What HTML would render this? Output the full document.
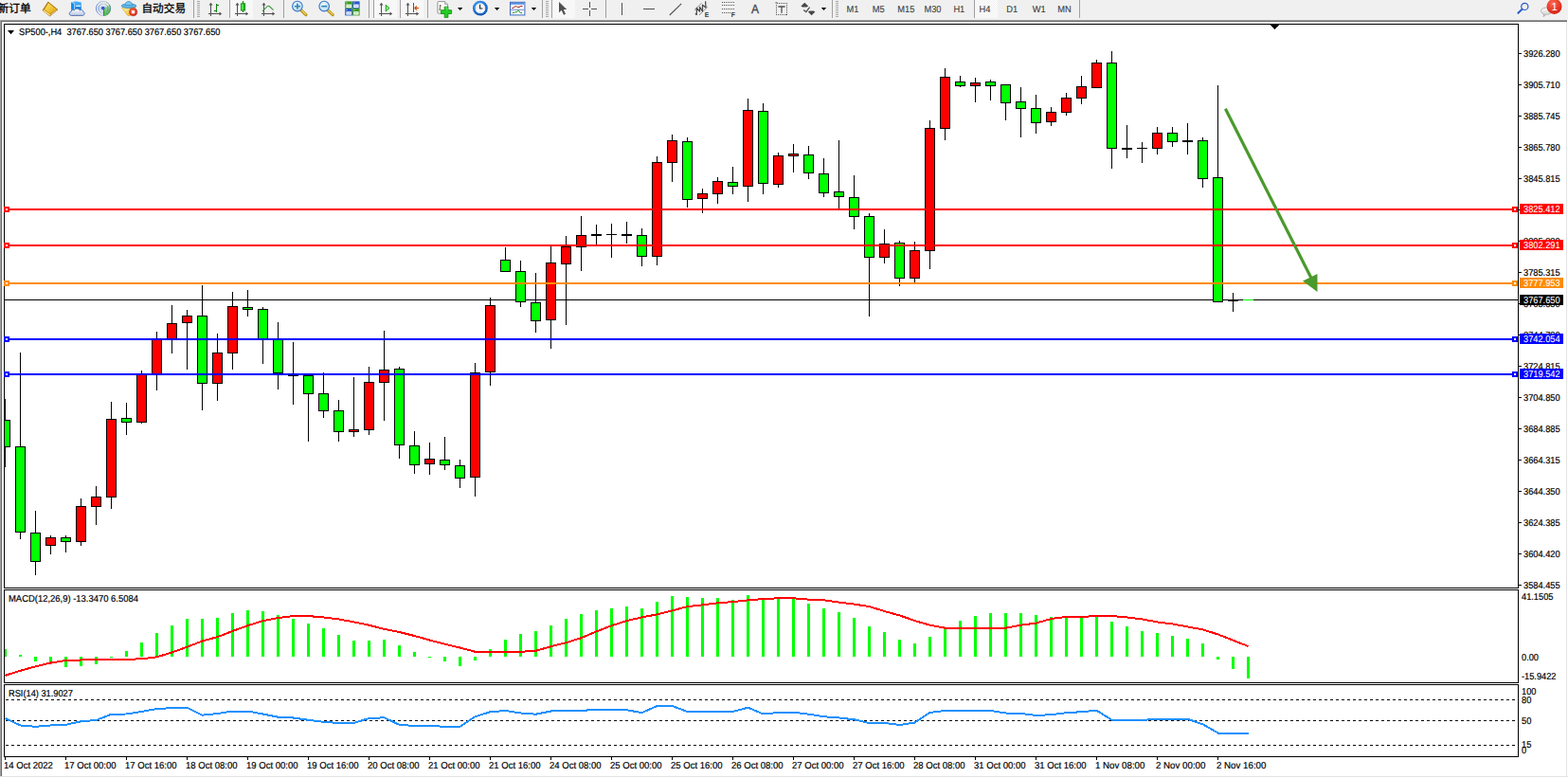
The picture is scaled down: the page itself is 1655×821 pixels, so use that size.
<!DOCTYPE html><html><head><meta charset="utf-8"><title>SP500 H4</title>
<style>html,body{margin:0;padding:0;background:#fff;}body{width:1655px;height:821px;overflow:hidden;position:relative;font-family:"Liberation Sans",sans-serif;}svg{position:absolute;left:0;top:0;}text{font-family:"Liberation Sans",sans-serif;}</style></head><body>
<svg width="1655" height="821" viewBox="0 0 1655 821">
<g shape-rendering="crispEdges">
<rect x="0" y="0" width="1655" height="21" fill="#f0f0f0"/>
<rect x="0" y="21" width="1654" height="1" fill="#a0a0a0"/>
<rect x="0" y="22" width="1654" height="1" fill="#696969"/>
<rect x="0" y="21" width="1" height="798" fill="#a0a0a0"/>
<rect x="1" y="22" width="1" height="797" fill="#696969"/>
<rect x="1654" y="21" width="1" height="800" fill="#ffffff"/>
<rect x="1653" y="23" width="1" height="797" fill="#e3e3e3"/>
<rect x="0" y="819" width="1655" height="1" fill="#e3e3e3"/>
<rect x="0" y="820" width="1655" height="1" fill="#ffffff"/>
</g>
<defs>
<linearGradient id="gGold" x1="0" y1="0" x2="1" y2="1"><stop offset="0" stop-color="#fff3a8"/><stop offset="0.5" stop-color="#e8b820"/><stop offset="1" stop-color="#b07808"/></linearGradient>
<linearGradient id="gBlueV" x1="0" y1="0" x2="0" y2="1"><stop offset="0" stop-color="#58b8ff"/><stop offset="1" stop-color="#0878e0"/></linearGradient>
<linearGradient id="gCloud" x1="0" y1="0" x2="0" y2="1"><stop offset="0" stop-color="#ffffff"/><stop offset="1" stop-color="#b8c8e4"/></linearGradient>
<radialGradient id="gLens" cx="0.4" cy="0.35" r="0.7"><stop offset="0" stop-color="#f0fbff"/><stop offset="1" stop-color="#b4dcf4"/></radialGradient>
<linearGradient id="gGreenV" x1="0" y1="0" x2="1" y2="0"><stop offset="0" stop-color="#a0ffa0"/><stop offset="0.5" stop-color="#20e020"/><stop offset="1" stop-color="#10b010"/></linearGradient>
<radialGradient id="gRed" cx="0.4" cy="0.3" r="0.8"><stop offset="0" stop-color="#ff6a50"/><stop offset="1" stop-color="#d01808"/></radialGradient>
<radialGradient id="gClock" cx="0.4" cy="0.3" r="0.8"><stop offset="0" stop-color="#48a8ff"/><stop offset="1" stop-color="#0848a8"/></radialGradient>
<linearGradient id="gYel" x1="0" y1="0" x2="1" y2="1"><stop offset="0" stop-color="#fff8b0"/><stop offset="1" stop-color="#e8b010"/></linearGradient>
<pattern id="chk" width="2" height="2" patternUnits="userSpaceOnUse"><rect width="2" height="2" fill="#f0f0f0"/><rect width="1" height="1" fill="#fff"/><rect x="1" y="1" width="1" height="1" fill="#fff"/></pattern>
<linearGradient id="gGold2" x1="0" y1="0" x2="1" y2="1"><stop offset="0" stop-color="#ffe868"/><stop offset="1" stop-color="#e0a408"/></linearGradient>
<linearGradient id="gRing" x1="0" y1="0" x2="1" y2="0"><stop offset="0" stop-color="#3060d0"/><stop offset="0.45" stop-color="#a0b8e8"/><stop offset="0.55" stop-color="#a8c8b0"/><stop offset="1" stop-color="#407890"/></linearGradient>
<linearGradient id="gSig" x1="0" y1="0" x2="0.4" y2="1"><stop offset="0" stop-color="#d0e8d0" stop-opacity="0.7"/><stop offset="1" stop-color="#30a830"/></linearGradient>
</defs>
<text x="-2.4" y="12.5" font-size="11.7px" fill="#000" stroke="#000" stroke-width="0.3" style="font-family:'Liberation Sans','Noto Sans CJK SC',sans-serif;">新订单</text>
<text x="149.4" y="12.5" font-size="11.7px" fill="#000" stroke="#000" stroke-width="0.3" style="font-family:'Liberation Sans','Noto Sans CJK SC',sans-serif;">自动交易</text>
<g shape-rendering="crispEdges">
<rect x="243" y="0" width="24" height="19" fill="url(#chk)"/>
<rect x="395" y="0" width="24" height="19" fill="url(#chk)"/>
<rect x="423" y="0" width="24" height="19" fill="url(#chk)"/>
<rect x="583" y="0" width="24" height="19" fill="url(#chk)"/>
<rect x="1029" y="0" width="24" height="19" fill="url(#chk)"/>
<rect x="204" y="0" width="1" height="19" fill="#a0a0a0"/>
<rect x="242" y="0" width="1" height="19" fill="#a0a0a0"/>
<rect x="299" y="0" width="1" height="19" fill="#a0a0a0"/>
<rect x="389" y="0" width="1" height="19" fill="#a0a0a0"/>
<rect x="394" y="0" width="1" height="19" fill="#a0a0a0"/>
<rect x="422" y="0" width="1" height="19" fill="#a0a0a0"/>
<rect x="451" y="0" width="1" height="19" fill="#a0a0a0"/>
<rect x="572" y="0" width="1" height="19" fill="#a0a0a0"/>
<rect x="582" y="0" width="1" height="19" fill="#a0a0a0"/>
<rect x="639" y="0" width="1" height="19" fill="#a0a0a0"/>
<rect x="878" y="0" width="1" height="19" fill="#a0a0a0"/>
<rect x="1028" y="0" width="1" height="19" fill="#a0a0a0"/>
<rect x="1139" y="0" width="1" height="19" fill="#a0a0a0"/>
<rect x="208" y="1" width="3" height="1" fill="#a8a8a8"/><rect x="208" y="3" width="3" height="1" fill="#a8a8a8"/><rect x="208" y="5" width="3" height="1" fill="#a8a8a8"/><rect x="208" y="7" width="3" height="1" fill="#a8a8a8"/><rect x="208" y="9" width="3" height="1" fill="#a8a8a8"/><rect x="208" y="11" width="3" height="1" fill="#a8a8a8"/><rect x="208" y="13" width="3" height="1" fill="#a8a8a8"/><rect x="208" y="15" width="3" height="1" fill="#a8a8a8"/><rect x="208" y="17" width="3" height="1" fill="#a8a8a8"/>
<rect x="576" y="1" width="3" height="1" fill="#a8a8a8"/><rect x="576" y="3" width="3" height="1" fill="#a8a8a8"/><rect x="576" y="5" width="3" height="1" fill="#a8a8a8"/><rect x="576" y="7" width="3" height="1" fill="#a8a8a8"/><rect x="576" y="9" width="3" height="1" fill="#a8a8a8"/><rect x="576" y="11" width="3" height="1" fill="#a8a8a8"/><rect x="576" y="13" width="3" height="1" fill="#a8a8a8"/><rect x="576" y="15" width="3" height="1" fill="#a8a8a8"/><rect x="576" y="17" width="3" height="1" fill="#a8a8a8"/>
<rect x="882" y="1" width="3" height="1" fill="#a8a8a8"/><rect x="882" y="3" width="3" height="1" fill="#a8a8a8"/><rect x="882" y="5" width="3" height="1" fill="#a8a8a8"/><rect x="882" y="7" width="3" height="1" fill="#a8a8a8"/><rect x="882" y="9" width="3" height="1" fill="#a8a8a8"/><rect x="882" y="11" width="3" height="1" fill="#a8a8a8"/><rect x="882" y="13" width="3" height="1" fill="#a8a8a8"/><rect x="882" y="15" width="3" height="1" fill="#a8a8a8"/><rect x="882" y="17" width="3" height="1" fill="#a8a8a8"/>
</g>
<g><path d="M50.8 2.1 L61 10.3 L52.6 16.9 L45 10.9 Z" fill="#c8901a" stroke="#a06a0a" stroke-width="0.8" stroke-linejoin="round"/><path d="M51.2 3.2 L59.6 10 L52.6 14.3 L47.2 9.9 Z" fill="url(#gGold2)"/><path d="M46.3 11.3 L52.4 15.7" stroke="#ffe890" stroke-width="1.3" stroke-linecap="round"/><path d="M53.6 15.5 L60.2 10.7" stroke="#e8d8a0" stroke-width="0.9"/></g>
<g><path d="M75.2 2.2 L80.4 1.2 L85.8 2.4 L85.8 10.4 L75.2 10.4 Z" fill="url(#gBlueV)"/><path d="M75.2 2.2 L78.6 3.6 L78.6 10.4 L75.2 10.4 Z" fill="#0a8ef0"/><path d="M75.6 2.4 L78.6 3.7 L78.6 10" stroke="#e6f6ff" stroke-width="0.7" fill="none"/><rect x="80" y="5.6" width="5" height="1.3" fill="#eaf7ff"/><path d="M75.4 16.4 C72.4 16.4 72.6 12.2 75.2 12.2 C75.2 10.4 77.4 10.2 78.2 11 C79.2 8.6 83.6 8.6 84.4 11 C85.8 9.8 88 10.6 87.6 12.4 C90 12.8 89.6 16.4 87 16.4 Z" fill="url(#gCloud)" stroke="#4a68a8" stroke-width="0.9" stroke-linejoin="round"/></g>
<g fill="none"><path d="M109 8.9 L109 17 A8.1 8.1 0 0 0 116 4.8 Z" fill="url(#gSig)"/><circle cx="109" cy="8.9" r="7.5" stroke="url(#gRing)" stroke-width="1" opacity="0.75"/><circle cx="109" cy="8.9" r="5" stroke="url(#gRing)" stroke-width="1" opacity="0.7"/><circle cx="109" cy="8.9" r="3" stroke="url(#gRing)" stroke-width="0.7" opacity="0.45"/><circle cx="108.8" cy="8.6" r="1.9" fill="#2858d0"/><path d="M109.6 9 L109.6 16.7" stroke="#18a018" stroke-width="1.3"/></g>
<g><path d="M128.6 8 L143.4 7.6 L137 16.6 L134.6 16.2 Z" fill="url(#gYel)" stroke="#d8a010" stroke-width="0.6" stroke-linejoin="round"/><ellipse cx="136" cy="6.2" rx="7.8" ry="2.3" fill="#62b4e8" stroke="#2a86b8" stroke-width="0.7"/><path d="M132 5.6 C132 0.2 139.6 0.2 139.6 5.6 Z" fill="#7cc4f0" stroke="#2a86b8" stroke-width="0.7"/><path d="M132.4 5.8 C134 6.8 138 6.8 139.3 5.8" stroke="#62b4e8" stroke-width="0.9" fill="none"/><circle cx="140.6" cy="12.7" r="4.1" fill="url(#gRed)" stroke="#b01000" stroke-width="0.4"/><rect x="138.9" y="11.1" width="3.3" height="3.2" fill="#fff"/></g>
<g fill="#505050" shape-rendering="crispEdges"><rect x="222" y="4" width="1" height="13"/><rect x="220" y="14" width="13" height="1"/></g><path d="M220.5 5.5 L222.5 2.8 L224.5 5.5 Z M231.5 12.5 L234.2 14.5 L231.5 16.5 Z" fill="#505050"/>
<g fill="#108010" shape-rendering="crispEdges"><rect x="228" y="4" width="1" height="9"/><rect x="228" y="5" width="3" height="1"/><rect x="226" y="11" width="3" height="1"/></g>
<path d="M228.5 4.3V12.6M228.5 5.3H231M226 11.3H228.5" stroke="#108010" stroke-width="0.6" fill="none"/>
<g fill="#505050" shape-rendering="crispEdges"><rect x="250" y="4" width="1" height="13"/><rect x="248" y="14" width="13" height="1"/></g><path d="M248.5 5.5 L250.5 2.8 L252.5 5.5 Z M259.5 12.5 L262.2 14.5 L259.5 16.5 Z" fill="#505050"/>
<rect x="256" y="1" width="1" height="12" fill="#108010" shape-rendering="crispEdges"/><rect x="254.4" y="3.8" width="4.2" height="7.2" fill="url(#gGreenV)" stroke="#108010" stroke-width="0.9"/>
<g fill="#505050" shape-rendering="crispEdges"><rect x="278" y="4" width="1" height="13"/><rect x="276" y="14" width="13" height="1"/></g><path d="M276.5 5.5 L278.5 2.8 L280.5 5.5 Z M287.5 12.5 L290.2 14.5 L287.5 16.5 Z" fill="#505050"/>
<path d="M277 11.8 C280 9.5 281.5 6.2 283.4 6.3 C285 6.4 286.5 9.5 288.6 10.4" stroke="#2a902a" stroke-width="1.1" fill="none"/>
<path d="M317.9 10.8 L322.9 15.6" stroke="#b89018" stroke-width="3.2" stroke-linecap="round"/><path d="M318.09999999999997 10.6 L322.9 15.2" stroke="#f0d860" stroke-width="1.2" stroke-linecap="round"/><circle cx="313.9" cy="6.6" r="5.3" fill="url(#gLens)" stroke="#3a74c8" stroke-width="1.1"/><rect x="310.9" y="5.8" width="6" height="1.7" fill="#3888b0"/><rect x="313.04999999999995" y="3.6" width="1.7" height="6" fill="#3888b0"/>
<path d="M346.2 10.8 L351.2 15.6" stroke="#b89018" stroke-width="3.2" stroke-linecap="round"/><path d="M346.4 10.6 L351.2 15.2" stroke="#f0d860" stroke-width="1.2" stroke-linecap="round"/><circle cx="342.2" cy="6.6" r="5.3" fill="url(#gLens)" stroke="#3a74c8" stroke-width="1.1"/><rect x="339.2" y="5.8" width="6" height="1.7" fill="#3888b0"/>
<rect x="364.2" y="1.4" width="7.6" height="7.4" fill="#3a9a1c"/><rect x="365.4" y="4.6" width="5.4" height="3.4" fill="#fff"/><rect x="366.2" y="5.800000000000001" width="3.8" height="0.9" fill="#90d070"/><rect x="365.5" y="2.4" width="1" height="1" fill="#fff" opacity="0.8"/>
<rect x="372" y="1.4" width="7.6" height="7.4" fill="#2858c8"/><rect x="373.2" y="4.6" width="5.4" height="3.4" fill="#fff"/><rect x="374" y="5.800000000000001" width="3.8" height="0.9" fill="#88a8e8"/><rect x="373.3" y="2.4" width="1" height="1" fill="#fff" opacity="0.8"/>
<rect x="364.2" y="9" width="7.6" height="7.4" fill="#2858c8"/><rect x="365.4" y="12.2" width="5.4" height="3.4" fill="#fff"/><rect x="366.2" y="13.4" width="3.8" height="0.9" fill="#88a8e8"/><rect x="365.5" y="10" width="1" height="1" fill="#fff" opacity="0.8"/>
<rect x="372" y="9" width="7.6" height="7.4" fill="#3a9a1c"/><rect x="373.2" y="12.2" width="5.4" height="3.4" fill="#fff"/><rect x="374" y="13.4" width="3.8" height="0.9" fill="#90d070"/><rect x="373.3" y="10" width="1" height="1" fill="#fff" opacity="0.8"/>
<g fill="#505050" shape-rendering="crispEdges"><rect x="402" y="4" width="1" height="13"/><rect x="400" y="14" width="13" height="1"/></g><path d="M400.5 5.5 L402.5 2.8 L404.5 5.5 Z M411.5 12.5 L414.2 14.5 L411.5 16.5 Z" fill="#505050"/>
<path d="M407.2 5.2 L411 8.6 L407.2 12 Z" fill="#90e890" stroke="#18a018" stroke-width="1" stroke-linejoin="round"/>
<g fill="#505050" shape-rendering="crispEdges"><rect x="430" y="4" width="1" height="13"/><rect x="428" y="14" width="13" height="1"/></g><path d="M428.5 5.5 L430.5 2.8 L432.5 5.5 Z M439.5 12.5 L442.2 14.5 L439.5 16.5 Z" fill="#505050"/>
<rect x="436" y="3" width="1" height="10" fill="#1868a8" shape-rendering="crispEdges"/><path d="M437.4 8.5 H442 M437.6 8.5 L440 6.3 M437.6 8.5 L440 10.7" stroke="#d84000" stroke-width="1.1" fill="none"/>
<path d="M461.9 2.4 Q461.9 1.6 462.8 1.6 L469.6 1.6 L472.6 4.4 L472.6 13.4 Q472.6 14.2 471.8 14.2 L462.8 14.2 Q461.9 14.2 461.9 13.4 Z" fill="#fafafa" stroke="#8a8a8a" stroke-width="0.9"/><path d="M469.6 1.6 L469.6 4.4 L472.6 4.4" fill="#e0e0e0" stroke="#8a8a8a" stroke-width="0.7"/><path d="M464.4 5 V11 M464.4 6 H466 M463.4 10 H464.4" stroke="#605030" stroke-width="0.8" fill="none"/>
<path d="M469.2 7.2 H472.9 V10.7 H476.6 V14.5 H472.9 V18.4 H469.2 V14.5 H465.5 V10.7 H469.2 Z" fill="#22cc22" stroke="#0a8a0a" stroke-width="0.8"/><path d="M470 8 H472 V11.4" stroke="#a0ffa0" stroke-width="0.8" fill="none" opacity="0.7"/>
<path d="M483 8 h5.4 l-2.7 3 z" fill="#000"/>
<path d="M521.9 8 h5.4 l-2.7 3 z" fill="#000"/>
<path d="M560.8 8 h5.4 l-2.7 3 z" fill="#000"/>
<path d="M866.8 8 h5.4 l-2.7 3 z" fill="#000"/>
<circle cx="506.9" cy="8.7" r="7.9" fill="url(#gClock)"/><circle cx="506.9" cy="8.7" r="5.4" fill="#f4f8ff"/><path d="M506.6 5 V9 H509.4" stroke="#202020" stroke-width="1.1" fill="none"/><path d="M506.9 4v0.8M506.9 12.6v0.8M502.2 8.7h0.8M510.8 8.7h0.8" stroke="#8090a8" stroke-width="0.7"/>
<rect x="538.5" y="2.3" width="15.4" height="13.6" fill="#fff" stroke="#3a68c0" stroke-width="1"/><rect x="539" y="2.8" width="14.4" height="2" fill="#5890e0"/><rect x="539" y="9.8" width="14.4" height="0.8" fill="#3a68c0"/><path d="M540.4 8.4 H542 L543.4 6.8 H545.4 L546.2 7.6 H548 L549.2 6.6 H551.6" stroke="#a01010" stroke-width="1" fill="none"/><path d="M541 13.6 H542.6 L543.6 12.8 H545.4 L546.6 11.4 H547.6 L549.4 13.6 H551" stroke="#109010" stroke-width="1" fill="none"/>
<path d="M590 2 L590 13.2 L592.7 10.8 L595 15.8 L597 14.8 L594.7 10 L598.2 10 Z" fill="#505050"/>
<g fill="#505050" shape-rendering="crispEdges"><rect x="622" y="2" width="1" height="6"/><rect x="622" y="11" width="1" height="6"/><rect x="615" y="9" width="6" height="1"/><rect x="624" y="9" width="6" height="1"/></g>
<g fill="#505050" shape-rendering="crispEdges"><rect x="656" y="3" width="1" height="13"/><rect x="679" y="9" width="12" height="1"/></g>
<path d="M706.8 16 L719.2 3.9" stroke="#505050" stroke-width="1.1"/>
<g stroke="#484848" fill="none"><path d="M733 10.5 L740.8 3.2" stroke-width="0.9" stroke-dasharray="1 0.5"/><path d="M738.2 15.6 L746.9 7.3" stroke-width="0.9" stroke-dasharray="1 0.5"/><path d="M733.8 14.4 L735.3 15.4 L735.3 8.4 L738.5 12.2 L738.5 7.4 L741.5 12 L741.5 5.2 L745 8 L744.6 1.4" stroke-width="1.25" stroke-linejoin="round"/></g>
<text x="743.8" y="17.9" font-size="6.8px" font-weight="bold" fill="#383838">E</text>
<g stroke="#505050" stroke-width="1" stroke-dasharray="1 1" shape-rendering="crispEdges"><path d="M762 2.5H775"/><path d="M762 5.5H775"/><path d="M762 9.5H775"/><path d="M762 13.5H771"/></g>
<text x="771.8" y="17.9" font-size="6.8px" font-weight="bold" fill="#383838">F</text>
<text x="792.9" y="13.9" font-size="12px" fill="#484848" stroke="#484848" stroke-width="0.35">A</text>
<rect x="819.5" y="3.5" width="11" height="12" fill="none" stroke="#505050" stroke-width="1" stroke-dasharray="1 1" shape-rendering="crispEdges"/><path d="M821.4 7 H828.6 M825 7 V13.8" stroke="#505050" stroke-width="1.3" fill="none"/><rect x="818.4" y="2.4" width="2" height="1" fill="#505050"/>
<path d="M849.3 2.8 L853.2 6.6 L851.6 7.5 L847 7.5 L845.4 6.6 Z M852.9 12.4 L854.5 11.5 L858.8 11.5 L860.4 12.4 L856.6 16.2 Z" fill="#484848"/><path d="M848.2 10.6 L850.8 12.6 L854.6 7.6" stroke="#505050" stroke-width="1.3" fill="none"/>
<g font-size="10px" fill="#3c3c3c" stroke="#3c3c3c" stroke-width="0.12" text-rendering="geometricPrecision">
<text transform="translate(893.4 12.9) scale(0.93 1)">M1</text>
<text transform="translate(920.8 12.9) scale(0.93 1)">M5</text>
<text transform="translate(947.3 12.9) scale(0.93 1)">M15</text>
<text transform="translate(975.4 12.9) scale(0.93 1)">M30</text>
<text transform="translate(1006.4 12.9) scale(0.93 1)">H1</text>
<text transform="translate(1033.6 12.9) scale(0.93 1)">H4</text>
<text transform="translate(1062.3 12.9) scale(0.93 1)">D1</text>
<text transform="translate(1089.8 12.9) scale(0.93 1)">W1</text>
<text transform="translate(1116.3 12.9) scale(0.93 1)">MN</text>
</g>
<circle cx="1609.3" cy="6.9" r="3.6" fill="none" stroke="#2858c8" stroke-width="1.2"/><path d="M1606.6 9.6 L1602.4 13.8" stroke="#2858c8" stroke-width="2" stroke-linecap="round"/>
<linearGradient id="gBub" x1="0" y1="0" x2="0" y2="1"><stop offset="0" stop-color="#ffffff"/><stop offset="1" stop-color="#c4c4c4"/></linearGradient>
<path d="M1626.4 11.6 C1626.4 7 1637.8 7 1637.8 11.6 C1637.8 14.8 1633.4 15.6 1631.8 15.3 L1629 17.6 L1629.6 14.8 C1627.4 14.2 1626.4 13 1626.4 11.6 Z" fill="url(#gBub)" stroke="#a8a8a8" stroke-width="0.8"/>
<circle cx="1640.5" cy="6.9" r="8" fill="url(#gRed)"/><text x="1637.4" y="11" font-size="11.5px" fill="#fff">1</text>
<g shape-rendering="crispEdges" fill="#000">
<rect x="4" y="25" width="1599" height="1"/>
<rect x="4" y="620" width="1599" height="1"/>
<rect x="4" y="25" width="1" height="596"/>
<rect x="1602" y="25" width="1" height="596"/>
<rect x="4" y="622" width="1599" height="1"/>
<rect x="4" y="720" width="1599" height="1"/>
<rect x="4" y="622" width="1" height="99"/>
<rect x="1602" y="622" width="1" height="99"/>
<rect x="4" y="722" width="1599" height="1"/>
<rect x="4" y="798" width="1599" height="1"/>
<rect x="4" y="722" width="1" height="77"/>
<rect x="1602" y="722" width="1" height="77"/>
<rect x="1603" y="56" width="3" height="1"/>
<rect x="1603" y="89" width="3" height="1"/>
<rect x="1603" y="122" width="3" height="1"/>
<rect x="1603" y="155" width="3" height="1"/>
<rect x="1603" y="188" width="3" height="1"/>
<rect x="1603" y="221" width="3" height="1"/>
<rect x="1603" y="254" width="3" height="1"/>
<rect x="1603" y="287" width="3" height="1"/>
<rect x="1603" y="320" width="3" height="1"/>
<rect x="1603" y="353" width="3" height="1"/>
<rect x="1603" y="386" width="3" height="1"/>
<rect x="1603" y="419" width="3" height="1"/>
<rect x="1603" y="452" width="3" height="1"/>
<rect x="1603" y="485" width="3" height="1"/>
<rect x="1603" y="518" width="3" height="1"/>
<rect x="1603" y="551" width="3" height="1"/>
<rect x="1603" y="584" width="3" height="1"/>
<rect x="1603" y="617" width="3" height="1"/>
<rect x="5" y="799" width="1" height="3"/>
<rect x="69" y="799" width="1" height="3"/>
<rect x="133" y="799" width="1" height="3"/>
<rect x="197" y="799" width="1" height="3"/>
<rect x="261" y="799" width="1" height="3"/>
<rect x="325" y="799" width="1" height="3"/>
<rect x="389" y="799" width="1" height="3"/>
<rect x="453" y="799" width="1" height="3"/>
<rect x="517" y="799" width="1" height="3"/>
<rect x="581" y="799" width="1" height="3"/>
<rect x="645" y="799" width="1" height="3"/>
<rect x="709" y="799" width="1" height="3"/>
<rect x="773" y="799" width="1" height="3"/>
<rect x="837" y="799" width="1" height="3"/>
<rect x="901" y="799" width="1" height="3"/>
<rect x="965" y="799" width="1" height="3"/>
<rect x="1029" y="799" width="1" height="3"/>
<rect x="1093" y="799" width="1" height="3"/>
<rect x="1157" y="799" width="1" height="3"/>
<rect x="1221" y="799" width="1" height="3"/>
<rect x="1285" y="799" width="1" height="3"/>
<path d="M1340 26h10l-5 5z"/>
</g>
<clipPath id="cp"><rect x="5" y="26" width="1597" height="594"/></clipPath>
<g shape-rendering="crispEdges" clip-path="url(#cp)">
<rect x="5" y="316" width="1597" height="1" fill="#000"/>
<rect x="5" y="421" width="1" height="72" fill="#000"/>
<rect x="0" y="443" width="11" height="29" fill="#000"/>
<rect x="1" y="444" width="9" height="27" fill="#00ff00"/>
<rect x="21" y="372" width="1" height="197" fill="#000"/>
<rect x="16" y="471" width="11" height="91" fill="#000"/>
<rect x="17" y="472" width="9" height="89" fill="#00ff00"/>
<rect x="37" y="539" width="1" height="68" fill="#000"/>
<rect x="32" y="562" width="11" height="31" fill="#000"/>
<rect x="33" y="563" width="9" height="29" fill="#00ff00"/>
<rect x="53" y="565" width="1" height="20" fill="#000"/>
<rect x="48" y="567" width="11" height="9" fill="#000"/>
<rect x="49" y="568" width="9" height="7" fill="#ff0000"/>
<rect x="69" y="565" width="1" height="18" fill="#000"/>
<rect x="64" y="567" width="11" height="5" fill="#000"/>
<rect x="65" y="568" width="9" height="3" fill="#00ff00"/>
<rect x="85" y="526" width="1" height="50" fill="#000"/>
<rect x="80" y="534" width="11" height="38" fill="#000"/>
<rect x="81" y="535" width="9" height="36" fill="#ff0000"/>
<rect x="101" y="513" width="1" height="41" fill="#000"/>
<rect x="96" y="524" width="11" height="11" fill="#000"/>
<rect x="97" y="525" width="9" height="9" fill="#ff0000"/>
<rect x="117" y="424" width="1" height="113" fill="#000"/>
<rect x="112" y="442" width="11" height="83" fill="#000"/>
<rect x="113" y="443" width="9" height="81" fill="#ff0000"/>
<rect x="133" y="425" width="1" height="34" fill="#000"/>
<rect x="128" y="441" width="11" height="5" fill="#000"/>
<rect x="129" y="442" width="9" height="3" fill="#00ff00"/>
<rect x="149" y="391" width="1" height="56" fill="#000"/>
<rect x="144" y="395" width="11" height="51" fill="#000"/>
<rect x="145" y="396" width="9" height="49" fill="#ff0000"/>
<rect x="165" y="350" width="1" height="62" fill="#000"/>
<rect x="160" y="358" width="11" height="37" fill="#000"/>
<rect x="161" y="359" width="9" height="35" fill="#ff0000"/>
<rect x="181" y="322" width="1" height="51" fill="#000"/>
<rect x="176" y="341" width="11" height="17" fill="#000"/>
<rect x="177" y="342" width="9" height="15" fill="#ff0000"/>
<rect x="197" y="327" width="1" height="63" fill="#000"/>
<rect x="192" y="333" width="11" height="8" fill="#000"/>
<rect x="193" y="334" width="9" height="6" fill="#ff0000"/>
<rect x="213" y="301" width="1" height="132" fill="#000"/>
<rect x="208" y="333" width="11" height="72" fill="#000"/>
<rect x="209" y="334" width="9" height="70" fill="#00ff00"/>
<rect x="229" y="352" width="1" height="71" fill="#000"/>
<rect x="224" y="372" width="11" height="33" fill="#000"/>
<rect x="225" y="373" width="9" height="31" fill="#ff0000"/>
<rect x="245" y="308" width="1" height="82" fill="#000"/>
<rect x="240" y="323" width="11" height="50" fill="#000"/>
<rect x="241" y="324" width="9" height="48" fill="#ff0000"/>
<rect x="261" y="306" width="1" height="28" fill="#000"/>
<rect x="256" y="324" width="11" height="3" fill="#000"/>
<rect x="257" y="325" width="9" height="1" fill="#00ff00"/>
<rect x="277" y="324" width="1" height="60" fill="#000"/>
<rect x="272" y="326" width="11" height="32" fill="#000"/>
<rect x="273" y="327" width="9" height="30" fill="#00ff00"/>
<rect x="293" y="340" width="1" height="71" fill="#000"/>
<rect x="288" y="358" width="11" height="36" fill="#000"/>
<rect x="289" y="359" width="9" height="34" fill="#00ff00"/>
<rect x="309" y="361" width="1" height="66" fill="#000"/>
<rect x="304" y="396" width="11" height="1" fill="#000"/>
<rect x="325" y="396" width="1" height="70" fill="#000"/>
<rect x="320" y="396" width="11" height="20" fill="#000"/>
<rect x="321" y="397" width="9" height="18" fill="#00ff00"/>
<rect x="341" y="393" width="1" height="48" fill="#000"/>
<rect x="336" y="415" width="11" height="19" fill="#000"/>
<rect x="337" y="416" width="9" height="17" fill="#00ff00"/>
<rect x="357" y="422" width="1" height="44" fill="#000"/>
<rect x="352" y="433" width="11" height="23" fill="#000"/>
<rect x="353" y="434" width="9" height="21" fill="#00ff00"/>
<rect x="373" y="398" width="1" height="63" fill="#000"/>
<rect x="368" y="453" width="11" height="3" fill="#000"/>
<rect x="369" y="454" width="9" height="1" fill="#ff0000"/>
<rect x="389" y="387" width="1" height="72" fill="#000"/>
<rect x="384" y="403" width="11" height="51" fill="#000"/>
<rect x="385" y="404" width="9" height="49" fill="#ff0000"/>
<rect x="405" y="349" width="1" height="95" fill="#000"/>
<rect x="400" y="390" width="11" height="14" fill="#000"/>
<rect x="401" y="391" width="9" height="12" fill="#ff0000"/>
<rect x="421" y="387" width="1" height="97" fill="#000"/>
<rect x="416" y="389" width="11" height="81" fill="#000"/>
<rect x="417" y="390" width="9" height="79" fill="#00ff00"/>
<rect x="437" y="455" width="1" height="45" fill="#000"/>
<rect x="432" y="470" width="11" height="21" fill="#000"/>
<rect x="433" y="471" width="9" height="19" fill="#00ff00"/>
<rect x="453" y="467" width="1" height="34" fill="#000"/>
<rect x="448" y="484" width="11" height="6" fill="#000"/>
<rect x="449" y="485" width="9" height="4" fill="#ff0000"/>
<rect x="469" y="461" width="1" height="35" fill="#000"/>
<rect x="464" y="485" width="11" height="6" fill="#000"/>
<rect x="465" y="486" width="9" height="4" fill="#00ff00"/>
<rect x="485" y="485" width="1" height="30" fill="#000"/>
<rect x="480" y="491" width="11" height="14" fill="#000"/>
<rect x="481" y="492" width="9" height="12" fill="#00ff00"/>
<rect x="501" y="383" width="1" height="141" fill="#000"/>
<rect x="496" y="393" width="11" height="111" fill="#000"/>
<rect x="497" y="394" width="9" height="109" fill="#ff0000"/>
<rect x="517" y="314" width="1" height="93" fill="#000"/>
<rect x="512" y="322" width="11" height="71" fill="#000"/>
<rect x="513" y="323" width="9" height="69" fill="#ff0000"/>
<rect x="533" y="261" width="1" height="26" fill="#000"/>
<rect x="528" y="274" width="11" height="13" fill="#000"/>
<rect x="529" y="275" width="9" height="11" fill="#00ff00"/>
<rect x="549" y="275" width="1" height="49" fill="#000"/>
<rect x="544" y="286" width="11" height="33" fill="#000"/>
<rect x="545" y="287" width="9" height="31" fill="#00ff00"/>
<rect x="565" y="288" width="1" height="63" fill="#000"/>
<rect x="560" y="319" width="11" height="20" fill="#000"/>
<rect x="561" y="320" width="9" height="18" fill="#00ff00"/>
<rect x="581" y="260" width="1" height="108" fill="#000"/>
<rect x="576" y="277" width="11" height="61" fill="#000"/>
<rect x="577" y="278" width="9" height="59" fill="#ff0000"/>
<rect x="597" y="249" width="1" height="94" fill="#000"/>
<rect x="592" y="260" width="11" height="19" fill="#000"/>
<rect x="593" y="261" width="9" height="17" fill="#ff0000"/>
<rect x="613" y="228" width="1" height="58" fill="#000"/>
<rect x="608" y="248" width="11" height="13" fill="#000"/>
<rect x="609" y="249" width="9" height="11" fill="#ff0000"/>
<rect x="629" y="237" width="1" height="21" fill="#000"/>
<rect x="624" y="247" width="11" height="2" fill="#000"/>
<rect x="645" y="236" width="1" height="36" fill="#000"/>
<rect x="640" y="247" width="11" height="1" fill="#000"/>
<rect x="661" y="234" width="1" height="23" fill="#000"/>
<rect x="656" y="247" width="11" height="2" fill="#000"/>
<rect x="677" y="241" width="1" height="40" fill="#000"/>
<rect x="672" y="248" width="11" height="23" fill="#000"/>
<rect x="673" y="249" width="9" height="21" fill="#00ff00"/>
<rect x="693" y="165" width="1" height="115" fill="#000"/>
<rect x="688" y="171" width="11" height="100" fill="#000"/>
<rect x="689" y="172" width="9" height="98" fill="#ff0000"/>
<rect x="709" y="142" width="1" height="50" fill="#000"/>
<rect x="704" y="148" width="11" height="24" fill="#000"/>
<rect x="705" y="149" width="9" height="22" fill="#ff0000"/>
<rect x="725" y="145" width="1" height="74" fill="#000"/>
<rect x="720" y="149" width="11" height="62" fill="#000"/>
<rect x="721" y="150" width="9" height="60" fill="#00ff00"/>
<rect x="741" y="199" width="1" height="26" fill="#000"/>
<rect x="736" y="204" width="11" height="6" fill="#000"/>
<rect x="737" y="205" width="9" height="4" fill="#ff0000"/>
<rect x="757" y="187" width="1" height="28" fill="#000"/>
<rect x="752" y="191" width="11" height="14" fill="#000"/>
<rect x="753" y="192" width="9" height="12" fill="#ff0000"/>
<rect x="773" y="176" width="1" height="29" fill="#000"/>
<rect x="768" y="192" width="11" height="5" fill="#000"/>
<rect x="769" y="193" width="9" height="3" fill="#00ff00"/>
<rect x="789" y="104" width="1" height="109" fill="#000"/>
<rect x="784" y="116" width="11" height="81" fill="#000"/>
<rect x="785" y="117" width="9" height="79" fill="#ff0000"/>
<rect x="805" y="109" width="1" height="96" fill="#000"/>
<rect x="800" y="117" width="11" height="77" fill="#000"/>
<rect x="801" y="118" width="9" height="75" fill="#00ff00"/>
<rect x="821" y="161" width="1" height="37" fill="#000"/>
<rect x="816" y="164" width="11" height="31" fill="#000"/>
<rect x="817" y="165" width="9" height="29" fill="#ff0000"/>
<rect x="837" y="152" width="1" height="30" fill="#000"/>
<rect x="832" y="162" width="11" height="3" fill="#000"/>
<rect x="833" y="163" width="9" height="1" fill="#ff0000"/>
<rect x="853" y="154" width="1" height="35" fill="#000"/>
<rect x="848" y="163" width="11" height="20" fill="#000"/>
<rect x="849" y="164" width="9" height="18" fill="#00ff00"/>
<rect x="869" y="167" width="1" height="41" fill="#000"/>
<rect x="864" y="183" width="11" height="21" fill="#000"/>
<rect x="865" y="184" width="9" height="19" fill="#00ff00"/>
<rect x="885" y="148" width="1" height="72" fill="#000"/>
<rect x="880" y="202" width="11" height="6" fill="#000"/>
<rect x="881" y="203" width="9" height="4" fill="#00ff00"/>
<rect x="901" y="185" width="1" height="57" fill="#000"/>
<rect x="896" y="208" width="11" height="21" fill="#000"/>
<rect x="897" y="209" width="9" height="19" fill="#00ff00"/>
<rect x="917" y="225" width="1" height="109" fill="#000"/>
<rect x="912" y="228" width="11" height="44" fill="#000"/>
<rect x="913" y="229" width="9" height="42" fill="#00ff00"/>
<rect x="933" y="242" width="1" height="36" fill="#000"/>
<rect x="928" y="257" width="11" height="15" fill="#000"/>
<rect x="929" y="258" width="9" height="13" fill="#ff0000"/>
<rect x="949" y="254" width="1" height="48" fill="#000"/>
<rect x="944" y="256" width="11" height="38" fill="#000"/>
<rect x="945" y="257" width="9" height="36" fill="#00ff00"/>
<rect x="965" y="255" width="1" height="43" fill="#000"/>
<rect x="960" y="264" width="11" height="30" fill="#000"/>
<rect x="961" y="265" width="9" height="28" fill="#ff0000"/>
<rect x="981" y="127" width="1" height="157" fill="#000"/>
<rect x="976" y="135" width="11" height="130" fill="#000"/>
<rect x="977" y="136" width="9" height="128" fill="#ff0000"/>
<rect x="997" y="72" width="1" height="76" fill="#000"/>
<rect x="992" y="81" width="11" height="55" fill="#000"/>
<rect x="993" y="82" width="9" height="53" fill="#ff0000"/>
<rect x="1013" y="80" width="1" height="12" fill="#000"/>
<rect x="1008" y="86" width="11" height="5" fill="#000"/>
<rect x="1009" y="87" width="9" height="3" fill="#00ff00"/>
<rect x="1029" y="82" width="1" height="26" fill="#000"/>
<rect x="1024" y="87" width="11" height="4" fill="#000"/>
<rect x="1025" y="88" width="9" height="2" fill="#ff0000"/>
<rect x="1045" y="84" width="1" height="22" fill="#000"/>
<rect x="1040" y="86" width="11" height="5" fill="#000"/>
<rect x="1041" y="87" width="9" height="3" fill="#00ff00"/>
<rect x="1061" y="89" width="1" height="38" fill="#000"/>
<rect x="1056" y="89" width="11" height="20" fill="#000"/>
<rect x="1057" y="90" width="9" height="18" fill="#00ff00"/>
<rect x="1077" y="92" width="1" height="53" fill="#000"/>
<rect x="1072" y="107" width="11" height="8" fill="#000"/>
<rect x="1073" y="108" width="9" height="6" fill="#00ff00"/>
<rect x="1093" y="100" width="1" height="41" fill="#000"/>
<rect x="1088" y="114" width="11" height="16" fill="#000"/>
<rect x="1089" y="115" width="9" height="14" fill="#00ff00"/>
<rect x="1109" y="113" width="1" height="20" fill="#000"/>
<rect x="1104" y="118" width="11" height="11" fill="#000"/>
<rect x="1105" y="119" width="9" height="9" fill="#ff0000"/>
<rect x="1125" y="98" width="1" height="24" fill="#000"/>
<rect x="1120" y="103" width="11" height="16" fill="#000"/>
<rect x="1121" y="104" width="9" height="14" fill="#ff0000"/>
<rect x="1141" y="80" width="1" height="30" fill="#000"/>
<rect x="1136" y="91" width="11" height="13" fill="#000"/>
<rect x="1137" y="92" width="9" height="11" fill="#ff0000"/>
<rect x="1157" y="63" width="1" height="30" fill="#000"/>
<rect x="1152" y="66" width="11" height="27" fill="#000"/>
<rect x="1153" y="67" width="9" height="25" fill="#ff0000"/>
<rect x="1173" y="54" width="1" height="124" fill="#000"/>
<rect x="1168" y="66" width="11" height="91" fill="#000"/>
<rect x="1169" y="67" width="9" height="89" fill="#00ff00"/>
<rect x="1189" y="132" width="1" height="35" fill="#000"/>
<rect x="1184" y="156" width="11" height="2" fill="#000"/>
<rect x="1205" y="150" width="1" height="22" fill="#000"/>
<rect x="1200" y="156" width="11" height="1" fill="#000"/>
<rect x="1221" y="134" width="1" height="29" fill="#000"/>
<rect x="1216" y="140" width="11" height="17" fill="#000"/>
<rect x="1217" y="141" width="9" height="15" fill="#ff0000"/>
<rect x="1237" y="134" width="1" height="21" fill="#000"/>
<rect x="1232" y="140" width="11" height="10" fill="#000"/>
<rect x="1233" y="141" width="9" height="8" fill="#00ff00"/>
<rect x="1253" y="130" width="1" height="33" fill="#000"/>
<rect x="1248" y="148" width="11" height="2" fill="#000"/>
<rect x="1269" y="145" width="1" height="53" fill="#000"/>
<rect x="1264" y="148" width="11" height="41" fill="#000"/>
<rect x="1265" y="149" width="9" height="39" fill="#00ff00"/>
<rect x="1285" y="90" width="1" height="229" fill="#000"/>
<rect x="1280" y="187" width="11" height="132" fill="#000"/>
<rect x="1281" y="188" width="9" height="130" fill="#00ff00"/>
<rect x="1301" y="309" width="1" height="20" fill="#000"/>
<rect x="1296" y="317" width="11" height="1" fill="#000"/>
<rect x="5" y="220" width="1597" height="2" fill="#ff0000"/>
<rect x="5" y="258" width="1597" height="2" fill="#ff0000"/>
<rect x="5" y="298" width="1597" height="2" fill="#ff8c00"/>
<rect x="5" y="357" width="1597" height="2" fill="#0000ff"/>
<rect x="5" y="394" width="1597" height="2" fill="#0000ff"/>
<rect x="1312" y="316" width="11" height="1" fill="#00ff00"/>
</g>
<g shape-rendering="crispEdges">
<rect x="4" y="218" width="6" height="6" fill="#ff0000"/><rect x="6" y="220" width="2" height="2" fill="#fff"/>
<rect x="1596" y="218" width="6" height="6" fill="#ff0000"/><rect x="1598" y="220" width="2" height="2" fill="#fff"/>
<rect x="4" y="256" width="6" height="6" fill="#ff0000"/><rect x="6" y="258" width="2" height="2" fill="#fff"/>
<rect x="1596" y="256" width="6" height="6" fill="#ff0000"/><rect x="1598" y="258" width="2" height="2" fill="#fff"/>
<rect x="4" y="296" width="6" height="6" fill="#ff8c00"/><rect x="6" y="298" width="2" height="2" fill="#fff"/>
<rect x="1596" y="296" width="6" height="6" fill="#ff8c00"/><rect x="1598" y="298" width="2" height="2" fill="#fff"/>
<rect x="4" y="355" width="6" height="6" fill="#0000ff"/><rect x="6" y="357" width="2" height="2" fill="#fff"/>
<rect x="1596" y="355" width="6" height="6" fill="#0000ff"/><rect x="1598" y="357" width="2" height="2" fill="#fff"/>
<rect x="4" y="392" width="6" height="6" fill="#0000ff"/><rect x="6" y="394" width="2" height="2" fill="#fff"/>
<rect x="1596" y="392" width="6" height="6" fill="#0000ff"/><rect x="1598" y="394" width="2" height="2" fill="#fff"/>
</g>
<g fill="#4a9a2c" stroke="none"><path d="M1293.4 114.8 L1383.8 293" stroke="#4a9a2c" stroke-width="3.2" fill="none"/><path d="M1390.5 289 L1375 296.5 L1390.5 308 Z"/></g>
<g shape-rendering="crispEdges" fill="#00ff00">
<rect x="5" y="685" width="2" height="8"/>
<rect x="20" y="691" width="3" height="2"/>
<rect x="36" y="693" width="3" height="5"/>
<rect x="52" y="693" width="3" height="8"/>
<rect x="68" y="693" width="3" height="11"/>
<rect x="84" y="693" width="3" height="10"/>
<rect x="100" y="693" width="3" height="8"/>
<rect x="116" y="693" width="3" height="1"/>
<rect x="132" y="687" width="3" height="6"/>
<rect x="148" y="678" width="3" height="15"/>
<rect x="164" y="668" width="3" height="25"/>
<rect x="180" y="660" width="3" height="33"/>
<rect x="196" y="653" width="3" height="40"/>
<rect x="212" y="653" width="3" height="40"/>
<rect x="228" y="652" width="3" height="41"/>
<rect x="244" y="647" width="3" height="46"/>
<rect x="260" y="644" width="3" height="49"/>
<rect x="276" y="645" width="3" height="48"/>
<rect x="292" y="649" width="3" height="44"/>
<rect x="308" y="653" width="3" height="40"/>
<rect x="324" y="658" width="3" height="35"/>
<rect x="340" y="663" width="3" height="30"/>
<rect x="356" y="670" width="3" height="23"/>
<rect x="372" y="676" width="3" height="17"/>
<rect x="388" y="676" width="3" height="17"/>
<rect x="404" y="675" width="3" height="18"/>
<rect x="420" y="681" width="3" height="12"/>
<rect x="436" y="688" width="3" height="5"/>
<rect x="452" y="693" width="3" height="1"/>
<rect x="468" y="693" width="3" height="5"/>
<rect x="484" y="693" width="3" height="10"/>
<rect x="500" y="693" width="3" height="4"/>
<rect x="516" y="685" width="3" height="8"/>
<rect x="532" y="675" width="3" height="18"/>
<rect x="548" y="669" width="3" height="24"/>
<rect x="564" y="666" width="3" height="27"/>
<rect x="580" y="660" width="3" height="33"/>
<rect x="596" y="653" width="3" height="40"/>
<rect x="612" y="648" width="3" height="45"/>
<rect x="628" y="644" width="3" height="49"/>
<rect x="644" y="642" width="3" height="51"/>
<rect x="660" y="640" width="3" height="53"/>
<rect x="676" y="642" width="3" height="51"/>
<rect x="692" y="635" width="3" height="58"/>
<rect x="708" y="629" width="3" height="64"/>
<rect x="724" y="630" width="3" height="63"/>
<rect x="740" y="631" width="3" height="62"/>
<rect x="756" y="631" width="3" height="62"/>
<rect x="772" y="633" width="3" height="60"/>
<rect x="788" y="628" width="3" height="65"/>
<rect x="804" y="631" width="3" height="62"/>
<rect x="820" y="632" width="3" height="61"/>
<rect x="836" y="632" width="3" height="61"/>
<rect x="852" y="637" width="3" height="56"/>
<rect x="868" y="642" width="3" height="51"/>
<rect x="884" y="646" width="3" height="47"/>
<rect x="900" y="652" width="3" height="41"/>
<rect x="916" y="661" width="3" height="32"/>
<rect x="932" y="667" width="3" height="26"/>
<rect x="948" y="675" width="3" height="18"/>
<rect x="964" y="679" width="3" height="14"/>
<rect x="980" y="672" width="3" height="21"/>
<rect x="996" y="663" width="3" height="30"/>
<rect x="1012" y="655" width="3" height="38"/>
<rect x="1028" y="650" width="3" height="43"/>
<rect x="1044" y="647" width="3" height="46"/>
<rect x="1060" y="647" width="3" height="46"/>
<rect x="1076" y="647" width="3" height="46"/>
<rect x="1092" y="649" width="3" height="44"/>
<rect x="1108" y="651" width="3" height="42"/>
<rect x="1124" y="651" width="3" height="42"/>
<rect x="1140" y="650" width="3" height="43"/>
<rect x="1156" y="651" width="3" height="42"/>
<rect x="1172" y="656" width="3" height="37"/>
<rect x="1188" y="661" width="3" height="32"/>
<rect x="1204" y="666" width="3" height="27"/>
<rect x="1220" y="668" width="3" height="25"/>
<rect x="1236" y="671" width="3" height="22"/>
<rect x="1252" y="674" width="3" height="19"/>
<rect x="1268" y="679" width="3" height="14"/>
<rect x="1284" y="693" width="3" height="3"/>
<rect x="1300" y="693" width="3" height="13"/>
<rect x="1316" y="693" width="3" height="23"/>
</g>
<polyline points="5.5,712.8 21.5,707.8 37.5,703.3 53.5,699.5 69.5,697 85.5,696.5 101.5,696 117.5,695.8 133.5,695.8 149.5,695.3 165.5,693.3 181.5,688.5 197.5,682.7 213.5,676.5 229.5,672.2 245.5,665.9 261.5,660.2 277.5,655.1 293.5,652.1 309.5,650.1 325.5,650.1 341.5,651.4 357.5,653.4 373.5,656.4 389.5,659.7 405.5,663.9 421.5,667 437.5,671 453.5,675.5 469.5,679.7 485.5,683.5 501.5,687.8 517.5,688 533.5,688 549.5,687.8 565.5,686.8 581.5,682.2 597.5,678.2 613.5,673.2 629.5,666.4 645.5,660.2 661.5,655.1 677.5,651.4 693.5,648.4 709.5,644.4 725.5,640.1 741.5,638.3 757.5,636.3 773.5,635.1 789.5,633.3 805.5,632.1 821.5,631.3 837.5,631.3 853.5,632.6 869.5,633.3 885.5,635.6 901.5,637.6 917.5,640 933.5,645 949.5,649.4 965.5,655 981.5,659.7 997.5,662.7 1013.5,663.4 1029.5,663.4 1045.5,663.4 1061.5,662.7 1077.5,659.7 1093.5,657.6 1109.5,653 1125.5,651 1141.5,651 1157.5,650 1173.5,650 1189.5,651.4 1205.5,653.4 1221.5,656.4 1237.5,658.4 1253.5,661.4 1269.5,664.4 1285.5,669.4 1301.5,675.7 1317.5,682" fill="none" stroke="#ff0000" stroke-width="2" stroke-linejoin="round" shape-rendering="crispEdges"/>
<g shape-rendering="crispEdges" stroke="#000" stroke-width="1" stroke-dasharray="3 3">
<line x1="6" x2="1602" y1="738.5" y2="738.5"/>
<line x1="6" x2="1602" y1="760.5" y2="760.5"/>
<line x1="6" x2="1602" y1="786.5" y2="786.5"/>
</g>
<polyline points="5.5,758 21.5,765.5 37.5,766.8 53.5,765.5 69.5,764.8 85.5,761.3 101.5,760 117.5,753.7 133.5,753.5 149.5,751 165.5,748 181.5,747.2 197.5,746.7 213.5,754.7 229.5,753 245.5,750.5 261.5,750.5 277.5,753.5 293.5,756.7 309.5,757.5 325.5,759.8 341.5,761.8 357.5,763 373.5,763 389.5,758 405.5,757.3 421.5,764.8 437.5,766 453.5,766 469.5,766.8 485.5,766.8 501.5,756.3 517.5,751.2 533.5,750 549.5,752.5 565.5,753.7 581.5,750.5 597.5,750 613.5,749.7 629.5,749.2 645.5,749.2 661.5,749.2 677.5,752.2 693.5,745 709.5,745 725.5,751 741.5,751 757.5,751 773.5,751 789.5,746.7 805.5,753.5 821.5,752 837.5,751.7 853.5,753.7 869.5,756.2 885.5,757.5 901.5,759.3 917.5,763 933.5,763 949.5,765 965.5,762.5 981.5,752 997.5,750 1013.5,750 1029.5,750 1045.5,750 1061.5,752.5 1077.5,753 1093.5,755 1109.5,754.2 1125.5,752.2 1141.5,751.2 1157.5,749.7 1173.5,759.8 1189.5,759.8 1205.5,759.8 1221.5,759 1237.5,758.8 1253.5,758.8 1269.5,764.3 1285.5,773.5 1301.5,773.5 1317.5,773.5" fill="none" stroke="#1e90ff" stroke-width="2" stroke-linejoin="round" shape-rendering="crispEdges"/>
<g text-rendering="geometricPrecision" font-size="10px" fill="#000" stroke="#000" stroke-width="0.2">
<text transform="translate(1608 60) scale(0.9250 1)">3926.280</text>
<text transform="translate(1608 93) scale(0.9250 1)">3905.710</text>
<text transform="translate(1608 126) scale(0.9250 1)">3885.745</text>
<text transform="translate(1608 159) scale(0.9250 1)">3865.780</text>
<text transform="translate(1608 192) scale(0.9250 1)">3845.815</text>
<text transform="translate(1608 225) scale(0.9250 1)">3825.850</text>
<text transform="translate(1608 258) scale(0.9250 1)">3805.280</text>
<text transform="translate(1608 291) scale(0.9250 1)">3785.315</text>
<text transform="translate(1608 324) scale(0.9250 1)">3765.350</text>
<text transform="translate(1608 357) scale(0.9250 1)">3744.780</text>
<text transform="translate(1608 390) scale(0.9250 1)">3724.815</text>
<text transform="translate(1608 423) scale(0.9250 1)">3704.850</text>
<text transform="translate(1608 456) scale(0.9250 1)">3684.885</text>
<text transform="translate(1608 489) scale(0.9250 1)">3664.315</text>
<text transform="translate(1608 522) scale(0.9250 1)">3644.350</text>
<text transform="translate(1608 555) scale(0.9250 1)">3624.385</text>
<text transform="translate(1608 588) scale(0.9250 1)">3604.420</text>
<text transform="translate(1608 621) scale(0.9250 1)">3584.455</text>
<text transform="translate(1606 632.7) scale(0.9250 1)">41.1505</text><text transform="translate(1606 697) scale(0.9250 1)">0.00</text><text transform="translate(1606 716.8) scale(0.9250 1)">-15.9422</text>
<text transform="translate(1606 733) scale(0.9250 1)">100</text><text transform="translate(1606 742) scale(0.9250 1)">80</text><text transform="translate(1606 764) scale(0.9250 1)">50</text><text transform="translate(1606 789) scale(0.9250 1)">15</text><text transform="translate(1606 795) scale(0.9250 1)">0</text>
<text transform="translate(4 811) scale(0.9528 1)">14 Oct 2022</text>
<text transform="translate(68 811) scale(0.9528 1)">17 Oct 00:00</text>
<text transform="translate(132 811) scale(0.9528 1)">17 Oct 16:00</text>
<text transform="translate(196 811) scale(0.9528 1)">18 Oct 08:00</text>
<text transform="translate(260 811) scale(0.9528 1)">19 Oct 00:00</text>
<text transform="translate(324 811) scale(0.9528 1)">19 Oct 16:00</text>
<text transform="translate(388 811) scale(0.9528 1)">20 Oct 08:00</text>
<text transform="translate(452 811) scale(0.9528 1)">21 Oct 00:00</text>
<text transform="translate(516 811) scale(0.9528 1)">21 Oct 16:00</text>
<text transform="translate(580 811) scale(0.9528 1)">24 Oct 08:00</text>
<text transform="translate(644 811) scale(0.9528 1)">25 Oct 00:00</text>
<text transform="translate(708 811) scale(0.9528 1)">25 Oct 16:00</text>
<text transform="translate(772 811) scale(0.9528 1)">26 Oct 08:00</text>
<text transform="translate(836 811) scale(0.9528 1)">27 Oct 00:00</text>
<text transform="translate(900 811) scale(0.9528 1)">27 Oct 16:00</text>
<text transform="translate(964 811) scale(0.9528 1)">28 Oct 08:00</text>
<text transform="translate(1028 811) scale(0.9528 1)">31 Oct 00:00</text>
<text transform="translate(1092 811) scale(0.9528 1)">31 Oct 16:00</text>
<text transform="translate(1156 811) scale(0.9713 1)">1 Nov 08:00</text>
<text transform="translate(1220 811) scale(0.9713 1)">2 Nov 00:00</text>
<text transform="translate(1284 811) scale(0.9713 1)">2 Nov 16:00</text>
<text transform="translate(20 37) scale(0.9250 1)">SP500-,H4&#160; 3767.650 3767.650 3767.650 3767.650</text>
<text transform="translate(9 634.8) scale(0.9435 1)">MACD(12,26,9) -13.3470 6.5084</text>
<text transform="translate(9 734.8) scale(0.9250 1)">RSI(14) 31.9027</text>
</g>
<path d="M8 32h7l-3.5 4.2z" fill="#000"/>
<g shape-rendering="crispEdges">
<rect x="1604" y="215" width="46" height="11" fill="#ff0000"/>
<rect x="1604" y="253" width="46" height="11" fill="#ff0000"/>
<rect x="1604" y="293" width="46" height="11" fill="#ff8c00"/>
<rect x="1604" y="311" width="46" height="11" fill="#000000"/>
<rect x="1604" y="352" width="46" height="11" fill="#0000ff"/>
<rect x="1604" y="389" width="46" height="11" fill="#0000ff"/>
</g>
<g text-rendering="geometricPrecision" font-size="10px" fill="#fff" stroke="#fff" stroke-width="0.08">
<text transform="translate(1608 224.0) scale(0.9250 1)">3825.412</text>
<text transform="translate(1608 262.0) scale(0.9250 1)">3802.291</text>
<text transform="translate(1608 302.0) scale(0.9250 1)">3777.953</text>
<text transform="translate(1608 320.0) scale(0.9250 1)">3767.650</text>
<text transform="translate(1608 361.0) scale(0.9250 1)">3742.054</text>
<text transform="translate(1608 398.0) scale(0.9250 1)">3719.542</text>
</g>
</svg></body></html>
